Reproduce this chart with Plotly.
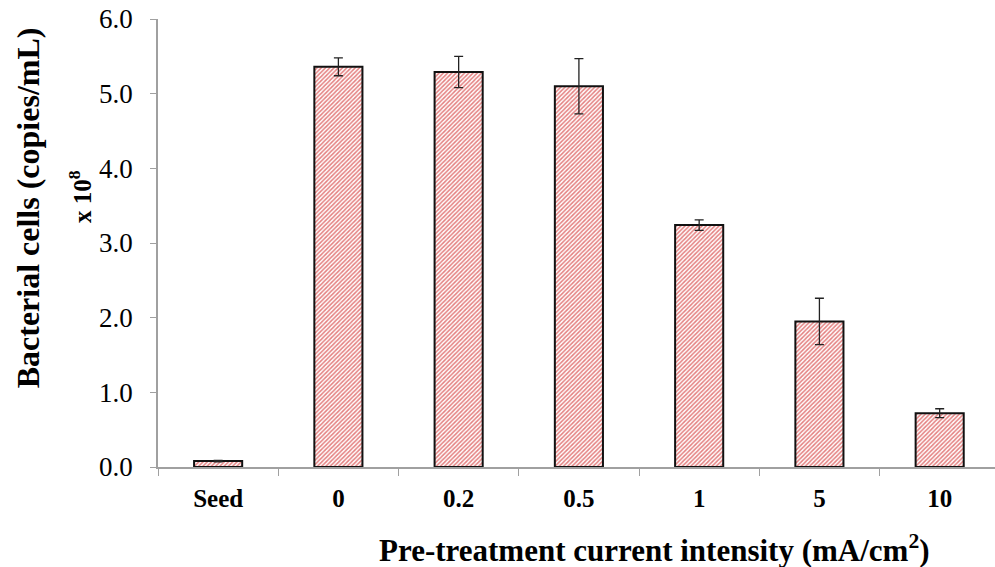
import plotly.graph_objects as go

# Pre-treatment current intensity groups and measured bacterial counts (x 10^8 copies/mL)
categories = ["Seed", "0", "0.2", "0.5", "1", "5", "10"]
cell_counts = [0.08, 5.36, 5.29, 5.10, 3.24, 1.95, 0.72]
count_errors = [0.01, 0.12, 0.21, 0.37, 0.07, 0.31, 0.06]
y_ticks = [0, 1, 2, 3, 4, 5, 6]

SERIF = "Liberation Serif, Times New Roman, serif"

fig = go.Figure()
fig.add_trace(go.Bar(
    x=categories,
    y=cell_counts,
    width=0.4,
    marker=dict(
        color="white",
        line=dict(color="#111111", width=2),
        pattern=dict(shape="/", fgcolor="#c80000", bgcolor="white",
                     size=3, solidity=0.5, fillmode="overlay"),
    ),
    error_y=dict(type="data", array=count_errors, visible=True,
                 color="#222222", thickness=1.3, width=4.5),
    showlegend=False,
))

fig.update_layout(
    width=995, height=567,
    margin=dict(l=158, r=0, t=19, b=100),
    paper_bgcolor="white", plot_bgcolor="white",
    font=dict(family=SERIF, color="black"),
    xaxis=dict(
        type="category",
        range=[-0.5, 6.46],
        tickvals=categories,
        ticktext=[f"<b>{c}</b>" for c in categories],
        tickfont=dict(size=25, family=SERIF, color="black"),
        tickson="boundaries",
        ticks="outside", ticklen=7, tickcolor="#a0a0a0", tickwidth=1,
        ticklabelstandoff=8,
        showline=True, linecolor="#a0a0a0", linewidth=1.5,
        showgrid=False, zeroline=False,
    ),
    yaxis=dict(
        range=[0, 6],
        tickvals=y_ticks,
        ticktext=[f"{v:.1f}" for v in y_ticks],
        tickfont=dict(size=27, family=SERIF, color="black"),
        ticks="outside", ticklen=6, tickcolor="#a0a0a0", tickwidth=1,
        ticklabelstandoff=12,
        showline=True, linecolor="#a0a0a0", linewidth=1.5,
        showgrid=False, zeroline=False,
    ),
    annotations=[
        dict(text="<b>Bacterial cells (copies/mL)</b>", xref="paper", yref="paper",
             x=-0.155, y=0.578, xanchor="center", yanchor="middle", textangle=-90,
             showarrow=False, font=dict(size=32, family=SERIF, color="black")),
        dict(text="<b>x 10<sup>8</sup></b>", xref="paper", yref="paper",
             x=-0.093, y=0.603, xanchor="center", yanchor="middle", textangle=-90,
             showarrow=False, font=dict(size=25, family=SERIF, color="black")),
        dict(text="<b>Pre-treatment current intensity (mA/cm<sup>2</sup>)</b>",
             xref="paper", yref="paper", x=0.593, y=-0.181,
             xanchor="center", yanchor="middle",
             showarrow=False, font=dict(size=31, family=SERIF, color="black")),
    ],
)

fig.write_html("out.html")
